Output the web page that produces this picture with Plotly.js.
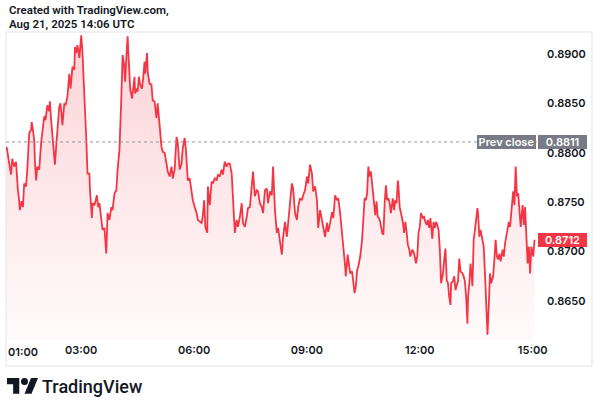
<!DOCTYPE html>
<html><head><meta charset="utf-8">
<script src="https://cdn.plot.ly/plotly-3.0.1.min.js"></script>
<style>html,body{margin:0;padding:0;background:#fff;} #chart{width:602px;height:400px;}</style>
</head><body><div id="chart"></div>
<script>
const day = "2025-08-21";
const times = [
"01:01","01:03","01:05","01:08","01:10","01:13","01:16","01:17","01:19","01:21",
"01:22","01:25","01:27","01:29","01:32","01:34","01:37","01:40","01:41","01:43",
"01:45","01:46","01:48","01:50","01:53","01:56","01:58","02:01","02:03","02:06",
"02:09","02:10","02:12","02:15","02:18","02:20","02:22","02:25","02:27","02:30",
"02:33","02:35","02:38","02:41","02:43","02:46","02:49","02:50","02:52","02:54",
"02:57","03:00","03:02","03:04","03:06","03:08","03:10","03:13","03:14","03:17",
"03:18","03:21","03:25","03:27","03:29","03:32","03:34","03:37","03:40","03:42",
"03:45","03:48","03:50","03:53","03:56","03:58","04:01","04:04","04:06","04:08",
"04:10","04:12","04:14","04:16","04:18","04:21","04:23","04:25","04:26","04:29",
"04:30","04:32","04:34","04:37","04:39","04:41","04:42","04:45","04:46","04:49",
"04:52","04:54","04:57","05:00","05:02","05:05","05:08","05:10","05:13","05:16",
"05:18","05:21","05:24","05:26","05:29","05:32","05:34","05:37","05:40","05:42",
"05:45","05:47","05:50","05:53","05:56","05:58","06:01","06:04","06:06","06:09",
"06:12","06:14","06:16","06:18","06:21","06:22","06:25","06:28","06:30","06:33",
"06:36","06:38","06:41","06:44","06:46","06:49","06:52","06:54","06:57","07:00",
"07:02","07:05","07:08","07:10","07:13","07:16","07:18","07:21","07:24","07:26",
"07:29","07:32","07:34","07:37","07:40","07:42","07:45","07:48","07:50","07:53",
"07:56","07:58","08:01","08:04","08:06","08:09","08:12","08:14","08:17","08:20",
"08:22","08:25","08:28","08:30","08:33","08:36","08:38","08:41","08:44","08:46",
"08:49","08:52","08:54","08:57","09:00","09:02","09:05","09:08","09:10","09:13",
"09:16","09:18","09:21","09:24","09:26","09:29","09:32","09:34","09:37","09:40",
"09:42","09:45","09:48","09:50","09:53","09:56","09:58","10:01","10:02","10:05",
"10:07","10:09","10:12","10:14","10:16","10:18","10:20","10:22","10:25","10:28",
"10:30","10:32","10:34","10:36","10:38","10:40","10:42","10:45","10:47","10:49",
"10:51","10:53","10:55","10:57","11:00","11:02","11:04","11:06","11:08","11:10",
"11:12","11:14","11:17","11:19","11:21","11:23","11:25","11:26","11:28","11:30",
"11:33","11:35","11:37","11:39","11:41","11:43","11:45","11:48","11:50","11:52",
"11:54","11:56","11:58","12:00","12:02","12:05","12:07","12:09","12:11","12:13",
"12:15","12:17","12:20","12:22","12:24","12:26","12:28","12:30","12:32","12:34",
"12:37","12:39","12:41","12:43","12:45","12:47","12:49","12:50","12:53","12:55",
"12:57","12:59","13:01","13:03","13:05","13:08","13:10","13:12","13:14","13:16",
"13:17","13:19","13:21","13:24","13:26","13:28","13:30","13:32","13:33","13:35",
"13:37","13:40","13:42","13:44","13:46","13:48","13:50","13:52","13:54","13:57",
"13:59","14:01","14:03","14:05","14:07","14:09","14:12","14:14","14:16","14:18",
"14:20","14:22","14:24","14:26","14:29","14:31","14:33","14:35","14:37","14:39",
"14:41","14:44","14:46","14:48","14:50","14:52","14:54","14:56","14:58","15:01",
"15:03"];
const prices = [
0.8806,0.8798,0.8794,0.8778,0.8794,0.8786,0.8791,0.8776,0.8762,0.8752,
0.8742,0.8751,0.8745,0.8769,0.8766,0.8783,0.8820,0.8823,0.8831,0.8823,
0.8813,0.8793,0.8772,0.8786,0.8783,0.8810,0.8823,0.8837,0.8833,0.8848,
0.8842,0.8852,0.8833,0.8806,0.8788,0.8806,0.8826,0.8847,0.8850,0.8828,
0.8850,0.8848,0.8857,0.8880,0.8865,0.8887,0.8884,0.8907,0.8901,0.8909,
0.8896,0.8919,0.8901,0.8874,0.8850,0.8815,0.8779,0.8779,0.8762,0.8734,
0.8749,0.8747,0.8757,0.8745,0.8749,0.8729,0.8722,0.8724,0.8698,0.8739,
0.8732,0.8745,0.8742,0.8759,0.8762,0.8783,0.8803,0.8857,0.8899,0.8891,
0.8872,0.8897,0.8918,0.8891,0.8865,0.8855,0.8870,0.8877,0.8860,0.8865,
0.8862,0.8877,0.8869,0.8865,0.8877,0.8892,0.8880,0.8901,0.8882,0.8870,
0.8869,0.8853,0.8852,0.8835,0.8850,0.8826,0.8806,0.8801,0.8800,0.8789,
0.8781,0.8776,0.8786,0.8774,0.8783,0.8816,0.8810,0.8783,0.8789,0.8805,
0.8815,0.8803,0.8772,0.8774,0.8759,0.8752,0.8745,0.8739,0.8732,0.8730,
0.8729,0.8737,0.8752,0.8725,0.8719,0.8766,0.8747,0.8771,0.8769,0.8774,
0.8772,0.8778,0.8776,0.8783,0.8778,0.8791,0.8786,0.8789,0.8789,0.8779,
0.8756,0.8719,0.8732,0.8725,0.8735,0.8749,0.8729,0.8725,0.8735,0.8744,
0.8745,0.8766,0.8781,0.8756,0.8762,0.8761,0.8749,0.8745,0.8739,0.8762,
0.8764,0.8749,0.8761,0.8757,0.8786,0.8742,0.8719,0.8724,0.8712,0.8697,
0.8715,0.8730,0.8715,0.8729,0.8747,0.8769,0.8764,0.8739,0.8732,0.8745,
0.8754,0.8752,0.8757,0.8762,0.8776,0.8769,0.8788,0.8779,0.8761,0.8766,
0.8752,0.8724,0.8742,0.8732,0.8727,0.8715,0.8729,0.8720,0.8729,0.8740,
0.8734,0.8757,0.8752,0.8754,0.8739,0.8715,0.8705,0.8685,0.8675,0.8697,
0.8685,0.8678,0.8680,0.8671,0.8658,0.8665,0.8681,0.8685,0.8695,0.8712,
0.8739,0.8754,0.8752,0.8759,0.8786,0.8776,0.8781,0.8762,0.8749,0.8737,
0.8751,0.8735,0.8734,0.8730,0.8719,0.8717,0.8749,0.8767,0.8752,0.8754,
0.8749,0.8739,0.8754,0.8742,0.8752,0.8749,0.8772,0.8766,0.8745,0.8740,
0.8730,0.8719,0.8730,0.8720,0.8707,0.8703,0.8695,0.8702,0.8700,0.8695,
0.8688,0.8695,0.8719,0.8725,0.8739,0.8734,0.8735,0.8730,0.8727,0.8732,
0.8724,0.8734,0.8713,0.8730,0.8724,0.8730,0.8727,0.8722,0.8702,0.8668,
0.8678,0.8692,0.8703,0.8671,0.8668,0.8654,0.8646,0.8668,0.8670,0.8675,
0.8661,0.8666,0.8670,0.8693,0.8680,0.8678,0.8675,0.8670,0.8654,0.8627,
0.8654,0.8668,0.8688,0.8665,0.8712,0.8722,0.8735,0.8744,0.8739,0.8715,
0.8722,0.8712,0.8705,0.8678,0.8648,0.8616,0.8644,0.8678,0.8668,0.8675,
0.8692,0.8712,0.8695,0.8692,0.8698,0.8690,0.8702,0.8695,0.8708,0.8715,
0.8719,0.8730,0.8725,0.8742,0.8761,0.8747,0.8786,0.8756,0.8759,0.8742,
0.8725,0.8747,0.8727,0.8745,0.8712,0.8688,0.8705,0.8678,0.8705,0.8695,
0.8712];
const prevClose = 0.8811;
const lastPrice = 0.8712;
const yTicks = [0.8650, 0.8700, 0.8750, 0.8800, 0.8850, 0.8900];
const xTickTimes = ["03:00", "06:00", "09:00", "12:00", "15:00"];
const firstTickTime = "01:00";
const headerLines = ["Created with TradingView.com,", "Aug 21, 2025 14:06 UTC"];
const brandName = "TradingView";
const prevLabel = "Prev close";

const FONT = "Inter, 'DejaVu Sans', sans-serif";
const HFONT = "Roboto, 'Liberation Sans', sans-serif";
const RED = "#F23645";
const INK = "#131722";
const GREY = "#787b86";

const x = times.map(t => day + " " + t);
const tickFont = {family: FONT, size: 11, color: INK, weight: 600};

const trace = {
  x: x, y: prices, type: "scatter", mode: "lines",
  line: {color: RED, width: 1.8},
  fill: "tozeroy",
  fillgradient: {type: "vertical", start: 0.8611, stop: 0.8922,
    colorscale: [[0, "rgba(242,54,69,0.02)"], [1, "rgba(242,54,69,0.22)"]]},
  hoverinfo: "skip"
};

const boxFont = {family: FONT, size: 11, color: "#ffffff", weight: 600};

const layout = {
  width: 602, height: 400,
  margin: {l: 6, r: 65, t: 32, b: 60, pad: 0},
  paper_bgcolor: "#ffffff", plot_bgcolor: "#ffffff",
  showlegend: false,
  xaxis: {
    type: "date", range: [day + " 01:00", day + " 15:07"],
    tickmode: "array",
    tickvals: xTickTimes.map(t => day + " " + t),
    ticktext: xTickTimes,
    showgrid: false, zeroline: false, showline: false, ticks: "",
    tickfont: tickFont, ticklabelstandoff: 2, fixedrange: true
  },
  yaxis: {
    side: "right", range: [0.861053, 0.892227],
    tickmode: "array", tickvals: yTicks, tickformat: ".4f",
    showgrid: false, zeroline: false, showline: false, ticks: "",
    tickfont: tickFont, ticklabelstandoff: 9, fixedrange: true
  },
  shapes: [
    {type: "rect", xref: "paper", yref: "paper", x0: 0, x1: 1.1036, y0: -0.0844, y1: 1,
     line: {color: "#e0e3eb", width: 1}, layer: "below"},
    {type: "line", xref: "paper", yref: "y", x0: 0, x1: 1, y0: prevClose, y1: prevClose,
     line: {color: "#9598a1", width: 1, dash: "dot"}},
    // TradingView logo (pixel offsets from the plot's bottom-left corner)
    {type: "path", xref: "paper", yref: "paper", xsizemode: "pixel", ysizemode: "pixel",
     xanchor: 0, yanchor: 0,
     path: "M13.25,-53.75 L7.13,-53.75 L7.13,-44.13 L1,-44.13 L1,-38 L13.25,-38 Z",
     fillcolor: INK, line: {width: 0}},
    {type: "path", xref: "paper", yref: "paper", xsizemode: "pixel", ysizemode: "pixel",
     xanchor: 0, yanchor: 0,
     path: "M25.5,-53.75 L18.5,-53.75 L25.06,-38 L32.06,-38 Z",
     fillcolor: INK, line: {width: 0}},
    {type: "circle", xref: "paper", yref: "paper", xsizemode: "pixel", ysizemode: "pixel",
     xanchor: 0, yanchor: 0, x0: 15, x1: 22, y0: -45, y1: -38,
     fillcolor: INK, line: {width: 0}}
  ],
  annotations: [
    {xref: "paper", yref: "paper", x: 0.002, y: 1.0714, xanchor: "left", yanchor: "middle",
     text: headerLines[0], showarrow: false, font: {family: HFONT, size: 11.5, color: INK, weight: 600}},
    {xref: "paper", yref: "paper", x: 0.002, y: 1.026, xanchor: "left", yanchor: "middle",
     text: headerLines[1], showarrow: false, font: {family: HFONT, size: 11.5, color: INK, weight: 600}},
    {xref: "x", yref: "paper", x: day + " " + firstTickTime, y: -0.0390, xanchor: "left", yanchor: "middle",
     text: firstTickTime, showarrow: false, font: tickFont},
    {xref: "paper", yref: "y", x: 1, xshift: -1, y: prevClose, xanchor: "right", yanchor: "middle",
     text: prevLabel, showarrow: false, bgcolor: GREY, borderwidth: 0, borderpad: 2,
     width: 55, height: 10, font: boxFont},
    {xref: "paper", yref: "y", x: 1, xshift: 1, y: prevClose, xanchor: "left", yanchor: "middle",
     text: prevClose.toFixed(4), showarrow: false, bgcolor: GREY, borderwidth: 0, borderpad: 2,
     width: 45, height: 10, font: boxFont},
    {xref: "paper", yref: "y", x: 1, xshift: 1, y: lastPrice, xanchor: "left", yanchor: "middle",
     text: lastPrice.toFixed(4), showarrow: false, bgcolor: RED, borderwidth: 0, borderpad: 2,
     width: 45, height: 10, font: boxFont},
    {xref: "paper", yref: "paper", x: 0.064, y: -0.1494, xanchor: "left", yanchor: "middle",
     text: brandName, showarrow: false, font: {family: HFONT, size: 18, color: INK, weight: 500}}
  ]
};

Plotly.newPlot("chart", [trace], layout, {staticPlot: true, displayModeBar: false});
</script>
</body></html>
